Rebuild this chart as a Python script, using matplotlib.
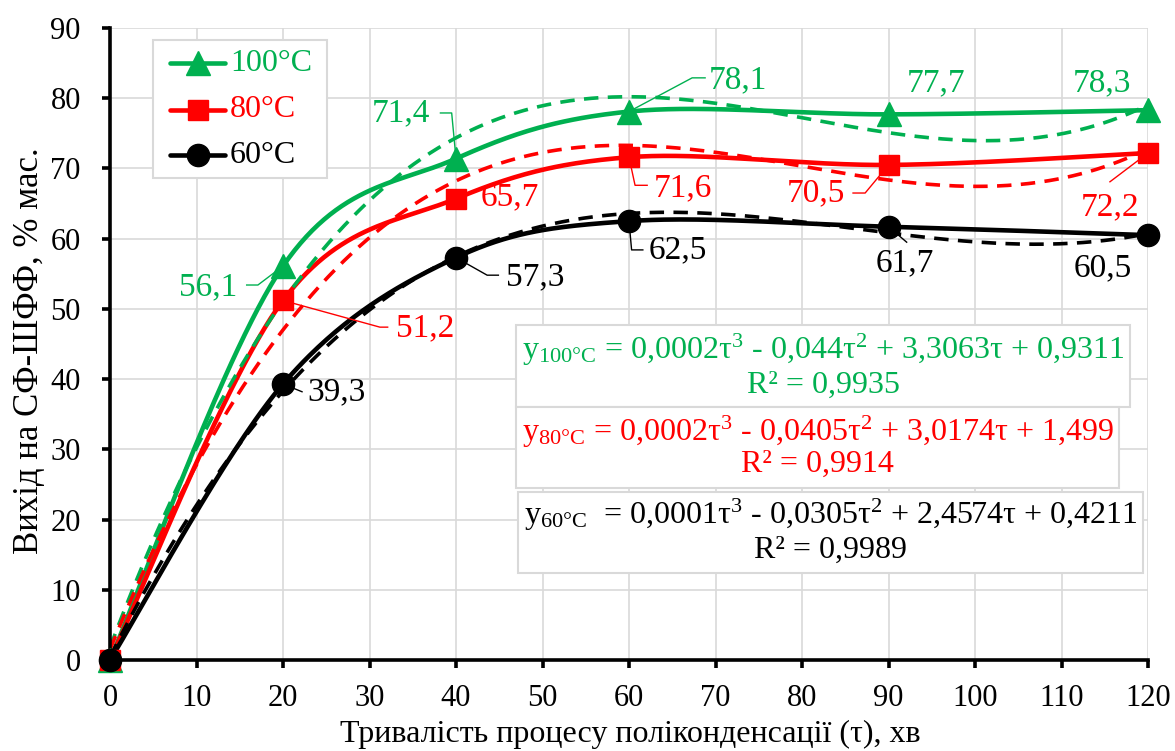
import numpy as np
import matplotlib
matplotlib.use("Agg")
import matplotlib.pyplot as plt
from matplotlib.lines import Line2D
from matplotlib.patches import Rectangle

plt.rcParams['font.family'] = ['Liberation Serif', 'DejaVu Serif']
plt.rcParams['mathtext.fontset'] = 'custom'
plt.rcParams['mathtext.rm'] = 'Liberation Serif'
plt.rcParams['mathtext.it'] = 'Liberation Serif:italic'
plt.rcParams['mathtext.bf'] = 'Liberation Serif:bold'

# --- data -------------------------------------------------------------
tau = [0, 20, 40, 60, 90, 120]
yield_100 = [0, 56.1, 71.4, 78.1, 77.7, 78.3]
yield_80 = [0, 51.2, 65.7, 71.6, 70.5, 72.2]
yield_60 = [0, 39.3, 57.3, 62.5, 61.7, 60.5]
series_names = ['100°C', '80°C', '60°C']
x_ticks = list(range(0, 121, 10))
y_ticks = list(range(0, 91, 10))
equations = [
    (r"y$_{\mathrm{100°C}}$ = 0,0002τ$^{3}$ - 0,044τ$^{2}$ + 3,3063τ + 0,9311", "R² = 0,9935"),
    (r"y$_{\mathrm{80°C}}$ = 0,0002τ$^{3}$ - 0,0405τ$^{2}$ + 3,0174τ + 1,499", "R² = 0,9914"),
    (r"y$_{\mathrm{60°C}}$  = 0,0001τ$^{3}$ - 0,0305τ$^{2}$ + 2,4574τ + 0,4211", "R² = 0,9989"),
]

GREEN = '#00B050'
RED = '#FF0000'
BLACK = '#000000'
GRID = '#D9D9D9'

fig = plt.figure(figsize=(11.75, 7.51), dpi=100)
fig.subplots_adjust(left=110/1175, right=1148/1175, bottom=1-660/751, top=1-28/751)
ax = fig.add_subplot(111)
ax.set_xlim(0, 120)
ax.set_ylim(0, 90)


def smooth_curve(ax, xs, ys, n=60):
    """Spreadsheet-style smoothed line: cubic Bezier segments through the points."""
    pts = ax.transData.transform(np.column_stack([xs, ys]))
    P = np.vstack([pts[0], pts, pts[-1]])
    t = np.linspace(0, 1, n)[:, None]
    segs = []
    for i in range(1, len(P) - 2):
        p0, p1, p2, p3 = P[i - 1], P[i], P[i + 1], P[i + 2]
        c1 = p1 + (p2 - p0) / 6.0
        c2 = p2 - (p3 - p1) / 6.0
        segs.append((1 - t) ** 3 * p1 + 3 * (1 - t) ** 2 * t * c1
                    + 3 * (1 - t) * t ** 2 * c2 + t ** 3 * p2)
    curve = ax.transData.inverted().transform(np.vstack(segs))
    return curve[:, 0], curve[:, 1]


series = [
    (yield_100, GREEN, '^', 17),
    (yield_80, RED, 's', 15),
    (yield_60, BLACK, 'o', 16),
]

# grid
for v in x_ticks[1:]:
    ax.axvline(v, color=GRID, lw=1.2, zorder=0)
for v in y_ticks[1:]:
    ax.axhline(v, color=GRID, lw=1.2, zorder=0)

x_arr = np.array(tau, dtype=float)
xx = np.linspace(0, 120, 400)
for ys, col, mk, ms in series:
    sx, sy = smooth_curve(ax, tau, ys)
    ax.plot(sx, sy, color=col, lw=3.3, solid_capstyle='round', zorder=3)
    coef = np.polyfit(x_arr, np.array(ys, dtype=float), 3)
    ax.plot(xx, np.polyval(coef, xx), color=col, lw=2.6, ls=(0, (4, 2.6)), zorder=4)
for ys, col, mk, ms in series:
    ax.plot(tau, ys, ls='none', marker=mk, ms=ms, color=col, mec=col,
            zorder=6, clip_on=False)

# value labels: (series index, point index, text position, leader path)
label_layout = [
    (0, 1, (11.3, 53.1), [(17.1, 53.4), (15.8, 53.4)]),
    (0, 2, (33.6, 77.9), [(39.5, 77.9), (38.2, 77.9)]),
    (0, 3, (72.6, 82.6), [(67.3, 82.9), (68.8, 82.9)]),
    (0, 4, (95.5, 82.2), None),
    (0, 5, (114.7, 82.2), None),
    (1, 1, (36.4, 47.3), [(31.2, 47.4), (32.1, 47.4)]),
    (1, 2, (46.2, 65.9), None),
    (1, 3, (66.2, 67.2), [(60.7, 67.6), (62.1, 67.6)]),
    (1, 4, (81.6, 66.5), [(87.3, 66.5), (85.9, 66.5)]),
    (1, 5, (115.6, 64.5), [(115.6, 68.1)]),
    (2, 1, (26.2, 38.2), [(22.2, 38.2)]),
    (2, 2, (49.1, 54.5), [(43.6, 54.8), (44.9, 54.8)]),
    (2, 3, (65.7, 58.4), [(60.3, 58.4), (61.6, 58.4)]),
    (2, 4, (91.9, 56.5), [(92.1, 59.5)]),
    (2, 5, (114.8, 55.8), None),
]
for si, pi, (tx, ty), path in label_layout:
    ys, col, _, _ = series[si]
    val = ys[pi]
    if path:
        px = [tau[pi]] + [p[0] for p in path]
        py = [val] + [p[1] for p in path]
        ax.plot(px, py, color=col, lw=1.0, zorder=5)
    ax.text(tx, ty, f"{val:.1f}".replace('.', ','), color=col, fontsize=24,
            ha='center', va='center', zorder=7)

# trendline equation boxes (axes fraction): x0, y0, x1, y1, line-1 y, line-2 y
eq_boxes = [
    (0.391, 0.400, 0.983, 0.530, 0.491, 0.435),
    (0.391, 0.272, 0.972, 0.400, 0.361, 0.309),
    (0.393, 0.138, 0.995, 0.266, 0.229, 0.174),
]
for (x0, y0, x1, y1, l1, l2), (eq, r2), (_, col, _, _) in zip(eq_boxes, equations, series):
    ax.add_patch(Rectangle((x0, y0), x1 - x0, y1 - y0, transform=ax.transAxes,
                           facecolor='white', edgecolor=GRID, lw=1.5, zorder=8))
    cx = (x0 + x1) / 2
    ax.text(cx, l1, eq, transform=ax.transAxes, color=col, fontsize=23,
            ha='center', va='center', zorder=9)
    ax.text(cx, l2, r2, transform=ax.transAxes, color=col, fontsize=23,
            ha='center', va='center', zorder=9)

# legend drawn in axes-fraction coordinates
ax.add_patch(Rectangle((0.0414, 0.7627), 0.2091 - 0.0414, 0.981 - 0.7627,
                       transform=ax.transAxes, facecolor='white', edgecolor=GRID,
                       lw=1.5, zorder=10))
for name, row_y, (_, col, mk, ms) in zip(series_names, [0.9446, 0.8703, 0.799], series):
    ax.add_line(Line2D([0.0578, 0.1108], [row_y, row_y], transform=ax.transAxes,
                       color=col, lw=3.3, solid_capstyle='round', zorder=11))
    ax.add_line(Line2D([0.0843], [row_y], transform=ax.transAxes, ls='none',
                       marker=mk, ms=ms, color=col, zorder=12))
    ax.text(0.1156, row_y, name, transform=ax.transAxes, color=col, fontsize=23,
            ha='left', va='center', zorder=12)

# axes
for side in ('top', 'right'):
    ax.spines[side].set_visible(False)
for side in ('left', 'bottom'):
    ax.spines[side].set_linewidth(2.6)
    ax.spines[side].set_zorder(5)
ax.set_xticks(x_ticks)
ax.set_yticks(y_ticks)
ax.tick_params(axis='both', direction='out', length=6, width=2.6, labelsize=22)
ax.tick_params(axis='x', pad=11)
ax.tick_params(axis='y', pad=15)
ax.set_xlabel('Тривалість процесу поліконденсації (τ), хв', fontsize=23)
ax.set_ylabel('Вихід на СФ-ШФФ, % мас.', fontsize=25)
ax.xaxis.set_label_coords(0.501, -0.095)
ax.yaxis.set_label_coords(-0.062, 0.49)

fig.savefig('out.png', dpi=100)
